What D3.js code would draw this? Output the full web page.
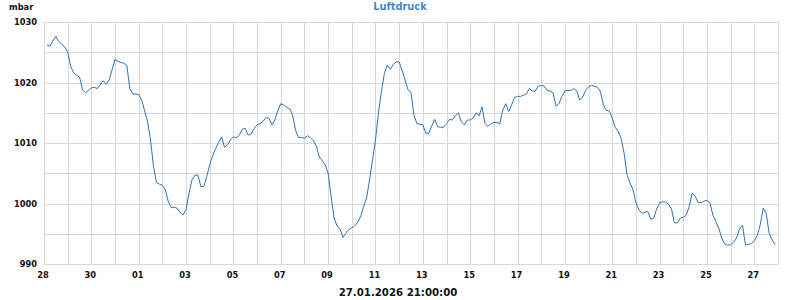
<!DOCTYPE html>
<html>
<head>
<meta charset="utf-8">
<script src="https://cdn.jsdelivr.net/npm/d3@7"></script>
<style>
    body { margin: 0; background: #fff; }
    svg text { font-family: 'DejaVu Sans', sans-serif; font-weight: bold; }
</style>
</head>
<body>
<div id="chart"></div>
<script>
// Messwerte Luftdruck, alle 3 Stunden ab 28.12.2025 03:00
var startTime = '2025-12-28T03:00:00',
    stepHours = 3,
    pressure = [
        1026.2, 1026.0, 1026.9, 1027.6, 1026.8, 1026.3, 1025.9,
        1025.0, 1022.7, 1021.6, 1021.2, 1020.9, 1018.8, 1018.3, 1018.7,
        1019.1, 1019.2, 1019.0, 1019.6, 1020.3, 1019.7, 1020.4, 1022.1,
        1023.8, 1023.5, 1023.3, 1023.2, 1022.8, 1019.0, 1018.1, 1018.1,
        1018.0, 1017.1, 1015.3, 1013.5, 1010.5, 1006.1, 1003.5, 1003.2,
        1003.0, 1002.3, 1000.3, 999.3, 999.4, 999.2, 998.5, 998.1,
        999.0, 1001.7, 1003.9, 1004.7, 1004.7, 1002.8, 1002.8, 1004.5,
        1006.4, 1007.9, 1009.1, 1010.1, 1011.0, 1009.3, 1009.7, 1010.5,
        1011.0, 1010.9, 1011.3, 1012.3, 1012.4, 1011.3, 1011.5, 1012.4,
        1013.0, 1013.2, 1013.6, 1014.2, 1014.1, 1013.0, 1013.8, 1015.4,
        1016.5, 1016.3, 1015.9, 1015.7, 1014.6, 1012.1, 1010.9, 1010.9,
        1010.8, 1011.2, 1010.9, 1010.4, 1009.5, 1007.7, 1007.1, 1006.4,
        1005.0, 1001.2, 997.6, 996.3, 995.8, 994.4, 995.1, 995.7,
        996.0, 996.3, 996.9, 997.9, 999.5, 1000.9, 1003.9, 1007.2,
        1010.5, 1014.9, 1018.5, 1021.5, 1022.9, 1022.2, 1023.0, 1023.4,
        1023.4, 1022.0, 1020.4, 1018.8, 1018.3, 1014.6, 1013.2, 1013.1,
        1013.0, 1011.6, 1011.6, 1012.8, 1013.9, 1012.7, 1012.6, 1012.6,
        1013.2, 1013.9, 1013.8, 1014.5, 1015.0, 1013.5, 1013.0, 1013.8,
        1013.8, 1014.1, 1015.0, 1014.5, 1016.0, 1013.2, 1012.7, 1013.2,
        1013.4, 1013.4, 1013.2, 1015.4, 1016.5, 1015.2, 1016.3, 1017.5,
        1017.7, 1017.7, 1017.9, 1018.1, 1019.0, 1018.6, 1018.6, 1019.4,
        1019.5, 1019.4, 1018.7, 1018.6, 1018.3, 1016.1, 1016.5, 1017.7,
        1018.6, 1018.7, 1018.7, 1019.0, 1018.6, 1017.1, 1017.6, 1018.7,
        1019.3, 1019.5, 1019.4, 1019.2, 1018.5, 1016.3, 1015.4, 1015.3,
        1014.1, 1012.6, 1011.9, 1010.8, 1008.3, 1004.7, 1003.4, 1002.3,
        1000.1, 999.0, 998.4, 998.5, 998.7, 997.4, 997.6, 999.1,
        1000.1, 1000.3, 1000.2, 999.9, 999.1, 996.8, 996.8, 997.6,
        997.7, 998.1, 999.5, 1001.7, 1001.2, 1000.2, 1000.1, 1000.4,
        1000.5, 1000.1, 998.1, 997.0, 995.9, 994.3, 993.3, 993.1,
        993.2, 993.6, 994.3, 995.8, 996.4, 993.2, 993.2, 993.4,
        993.8, 994.7, 996.5, 999.2, 998.4, 995.1, 994.0, 993.2
    ]

var xDomain = ['2025-12-28T00:00:00', '2026-01-28T00:00:00'],
    yDomain = [990, 1030],
    yLabelTicks = [990, 1000, 1010, 1020, 1030],
    yGridTicks = [990, 995, 1000, 1005, 1010, 1015, 1020, 1025, 1030],
    title = 'Luftdruck',
    unit = 'mbar',
    stampText = '27.01.2026 21:00:00'

var w = 800,
    h = 300,
    plotLeft = 44,
    plotRight = 778,
    plotTop = 22,
    plotBottom = 264,
    gridColor = '#d9d9d9',
    lineColor = '#2f72b6'

var parse = d3.timeParse('%Y-%m-%dT%H:%M:%S'),
    t0 = parse(startTime)

var data = pressure.map(function (v, i) {
    return { t: d3.timeHour.offset(t0, i * stepHours), v: v }
})

var x = d3.scaleTime().domain(xDomain.map(parse)).range([plotLeft, plotRight]),
    y = d3.scaleLinear().domain(yDomain).range([plotBottom, plotTop])

var svg = d3.select('#chart').append('svg').attr('width', w).attr('height', h)

// Gitter
var days = d3.timeDay.range(x.domain()[0], d3.timeDay.offset(x.domain()[1], 1))
svg.append('g')
    .selectAll('line')
    .data(days)
    .enter()
    .append('line')
    .attr('x1', function (d) { return Math.round(x(d)) + 0.5 })
    .attr('x2', function (d) { return Math.round(x(d)) + 0.5 })
    .attr('y1', plotTop)
    .attr('y2', plotBottom + 1)
    .attr('stroke', gridColor)

svg.append('g')
    .selectAll('line')
    .data(yGridTicks)
    .enter()
    .append('line')
    .attr('x1', plotLeft)
    .attr('x2', plotRight + 1)
    .attr('y1', function (d) { return Math.round(y(d)) + 0.5 })
    .attr('y2', function (d) { return Math.round(y(d)) + 0.5 })
    .attr('stroke', gridColor)

// Achsen-Beschriftung
svg.append('g')
    .selectAll('text')
    .data(yLabelTicks)
    .enter()
    .append('text')
    .attr('x', 37)
    .attr('y', function (d) { return y(d) + 3 })
    .attr('text-anchor', 'end')
    .attr('font-size', 8.3)
    .attr('fill', '#111')
    .text(function (d) { return d })

var labelDays = days.filter(function (d, i) { return i % 2 === 0 && d < x.domain()[1] })
svg.append('g')
    .selectAll('text')
    .data(labelDays)
    .enter()
    .append('text')
    .attr('x', function (d) { return x(d) - 1 })
    .attr('y', 278)
    .attr('text-anchor', 'middle')
    .attr('font-size', 8.3)
    .attr('fill', '#111')
    .text(d3.timeFormat('%d'))

// Kurve
var line = d3.line()
    .x(function (d) { return x(d.t) })
    .y(function (d) { return y(d.v) })

svg.append('path')
    .datum(data)
    .attr('d', line)
    .attr('fill', 'none')
    .attr('stroke', lineColor)
    .attr('stroke-width', 1)

// Titel, Einheit, Zeitstempel
svg.append('text')
    .attr('x', 400)
    .attr('y', 10)
    .attr('text-anchor', 'middle')
    .attr('font-size', 9.8)
    .attr('fill', '#4a86c2')
    .text(title)

svg.append('text')
    .attr('x', 9)
    .attr('y', 10)
    .attr('font-size', 8.3)
    .attr('fill', '#111')
    .text(unit)

svg.append('text')
    .attr('x', 398)
    .attr('y', 296)
    .attr('text-anchor', 'middle')
    .attr('font-size', 10.2)
    .attr('fill', '#111')
    .text(stampText)
</script>
</body>
</html>
